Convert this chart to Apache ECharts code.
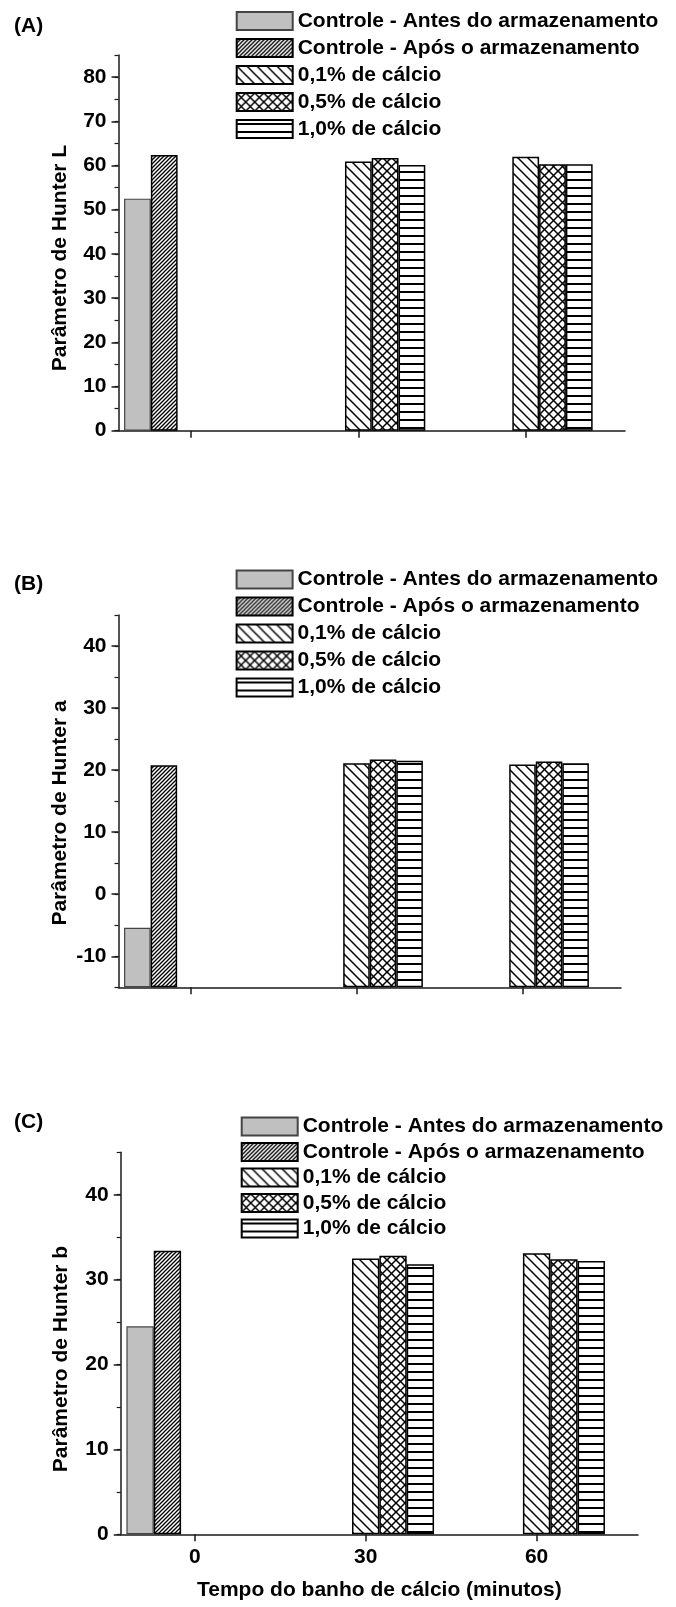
<!DOCTYPE html>
<html>
<head>
<meta charset="utf-8">
<script src="https://cdn.jsdelivr.net/npm/echarts@6/dist/echarts.min.js"></script>
<style>
html,body{margin:0;padding:0;background:#fff;}
#chart{width:676px;height:1607px;}
</style>
</head>
<body>
<div id="chart"></div>
<script>
// ---------------- DATA ----------------
const timeGroups = [0, 30, 60];
const xTickLabels = ['0', '30', '60'];
const seriesNames = [
  'Controle - Antes do armazenamento',
  'Controle - Após o armazenamento',
  '0,1% de cálcio',
  '0,5% de cálcio',
  '1,0% de cálcio'
];
// (A) Parâmetro de Hunter L
const L_antes = [52.5, null, null];
const L_apos  = [62.4, null, null];
const L_ca01  = [null, 60.9, 62.0];
const L_ca05  = [null, 61.7, 60.3];
const L_ca10  = [null, 60.1, 60.3];
// (B) Parâmetro de Hunter a
const a_antes = [-5.4, null, null];
const a_apos  = [20.8, null, null];
const a_ca01  = [null, 21.1, 20.9];
const a_ca05  = [null, 21.7, 21.4];
const a_ca10  = [null, 21.5, 21.1];
// (C) Parâmetro de Hunter b
const b_antes = [24.5, null, null];
const b_apos  = [33.4, null, null];
const b_ca01  = [null, 32.5, 33.1];
const b_ca05  = [null, 32.8, 32.4];
const b_ca10  = [null, 31.8, 32.2];
// tick labels
const yTicksL = [0, 10, 20, 30, 40, 50, 60, 70, 80];
const yTicksA = [-10, 0, 10, 20, 30, 40];
const yTicksB = [0, 10, 20, 30, 40];

// ---------------- STYLE / LAYOUT ----------------
const FONT = "'Liberation Sans', Arial, Helvetica, sans-serif";
const AXIS_COLOR = '#1a1a1a';

function pattern(kind) {
  const c = document.createElement('canvas');
  let s;
  if (kind === 'dense') s = 4;
  else if (kind === 'back') s = 10;
  else if (kind === 'cross') s = 9;
  else s = 8;
  c.width = s; c.height = s;
  const g = c.getContext('2d');
  g.fillStyle = '#fff';
  g.fillRect(0, 0, s, s);
  g.strokeStyle = '#000';
  g.fillStyle = '#000';
  function line(x1, y1, x2, y2) { g.beginPath(); g.moveTo(x1, y1); g.lineTo(x2, y2); g.stroke(); }
  if (kind === 'dense') {
    g.lineWidth = 1.3;
    line(-1, s + 1, s + 1, -1);
    line(-s - 1, s + 1, 1, -1);
    line(s - 1, s + 1, 2 * s + 1, -1);
  } else if (kind === 'back') {
    g.lineWidth = 1.5;
    line(-1, -1, s + 1, s + 1);
    line(-s - 1, -1, 1, s + 1);
    line(s - 1, -1, 2 * s + 1, s + 1);
  } else if (kind === 'cross') {
    g.lineWidth = 1.5;
    line(-1, -1, s + 1, s + 1);
    line(-s - 1, -1, 1, s + 1);
    line(s - 1, -1, 2 * s + 1, s + 1);
    line(-1, s + 1, s + 1, -1);
    line(-s - 1, s + 1, 1, -1);
    line(s - 1, s + 1, 2 * s + 1, -1);
  } else {
    g.fillRect(0, 3, s, 2);
  }
  return { image: c, repeat: 'repeat' };
}

const seriesStyles = [
  { color: '#c0c0c0', borderColor: '#444', borderWidth: 1.2 },
  { color: pattern('dense'), borderColor: '#000', borderWidth: 1.5 },
  { color: pattern('back'), borderColor: '#000', borderWidth: 1.5 },
  { color: pattern('cross'), borderColor: '#000', borderWidth: 1.5 },
  { color: pattern('horiz'), borderColor: '#000', borderWidth: 1.5 }
];

const xMin = -13, xMax = 77.8, barUnits = 4.8;

const panels = [
  { values: [L_antes, L_apos, L_ca01, L_ca05, L_ca10], yMin: 0, yMax: 85, yTicks: yTicksL,
    grid: { left: 118.5, top: 55, width: 506.5, height: 375.7 },
    yTitle: 'Parâmetro de Hunter L', yTitlePos: [60, 258],
    tag: '(A)', tagPos: [14, 26], legendPos: [230.7, 5.5], legendGap: 6 },
  { values: [a_antes, a_apos, a_ca01, a_ca05, a_ca10], yMin: -15, yMax: 45, yTicks: yTicksA,
    grid: { left: 118.5, top: 615, width: 502.5, height: 372.3 },
    yTitle: 'Parâmetro de Hunter a', yTitlePos: [60, 813],
    tag: '(B)', tagPos: [14, 584], legendPos: [230.6, 564], legendGap: 6 },
  { values: [b_antes, b_apos, b_ca01, b_ca05, b_ca10], yMin: 0, yMax: 45, yTicks: yTicksB,
    grid: { left: 120.7, top: 1152.3, width: 517.3, height: 382 },
    yTitle: 'Parâmetro de Hunter b', yTitlePos: [61, 1359],
    tag: '(C)', tagPos: [14, 1122], legendPos: [235.7, 1111], legendGap: 4.5, showX: true }
];

const textBase = { fontFamily: FONT, fontWeight: 'bold', fontSize: 21, color: '#000' };

const grids = [], xAxes = [], yAxes = [], series = [], legends = [], graphics = [];

panels.forEach((p, k) => {
  grids.push(Object.assign({ containLabel: false }, p.grid));
  const pxPerUnit = p.grid.width / (xMax - xMin);
  xAxes.push({
    type: 'value', gridIndex: k, min: xMin, max: xMax, position: 'bottom',
    axisLine: { show: true, onZero: false, lineStyle: { color: AXIS_COLOR, width: 1.5 } },
    axisTick: { show: true, customValues: timeGroups, length: 7, lineStyle: { color: AXIS_COLOR, width: 1.5 } },
    axisLabel: Object.assign({ show: !!p.showX, customValues: timeGroups, margin: 12,
      formatter: v => xTickLabels[timeGroups.indexOf(v)] }, textBase),
    splitLine: { show: false },
    name: p.showX ? 'Tempo do banho de cálcio (minutos)' : '',
    nameLocation: 'middle', nameGap: 45,
    nameTextStyle: textBase
  });
  // main y axis (labels + long ticks)
  yAxes.push({
    type: 'value', gridIndex: k, min: p.yMin, max: p.yMax, startValue: p.yMin, position: 'left',
    axisLine: { show: true, onZero: false, lineStyle: { color: AXIS_COLOR, width: 1.5 } },
    axisTick: { show: true, customValues: p.yTicks, length: 7, lineStyle: { color: AXIS_COLOR, width: 1.5 } },
    axisLabel: Object.assign({ customValues: p.yTicks, margin: 12 }, textBase),
    splitLine: { show: false }
  });
  // minor y axis (short ticks every 5), same side
  yAxes.push({
    type: 'value', gridIndex: k, min: p.yMin, max: p.yMax, interval: 5, position: 'left', offset: 0,
    axisLine: { show: false, onZero: false },
    axisTick: { show: true, length: 4, lineStyle: { color: AXIS_COLOR, width: 1.2 } },
    axisLabel: { show: false },
    splitLine: { show: false }
  });
  p.values.forEach((arr, j) => {
    series.push({
      type: 'bar', name: seriesNames[j], xAxisIndex: k, yAxisIndex: 2 * k,
      data: timeGroups.map((t, i) => [t, arr[i]]).filter(d => d[1] !== null),
      barWidth: barUnits * pxPerUnit, barGap: '0%',
      itemStyle: seriesStyles[j],
      emphasis: { disabled: true },
      animation: false
    });
  });
  legends.push({
    data: seriesNames, orient: 'vertical', left: p.legendPos[0], top: p.legendPos[1],
    icon: 'rect', itemWidth: 56, itemHeight: 18, itemGap: p.legendGap,
    textStyle: Object.assign({ lineHeight: 21 }, textBase),
    selectedMode: false
  });
  graphics.push({
    type: 'text', x: p.tagPos[0], y: p.tagPos[1],
    style: { text: p.tag, textAlign: 'left', textVerticalAlign: 'middle', fill: '#000',
      font: "bold 21px " + FONT }
  });
  graphics.push({
    type: 'text', x: p.yTitlePos[0], y: p.yTitlePos[1], rotation: Math.PI / 2,
    style: { text: p.yTitle, textAlign: 'center', textVerticalAlign: 'middle', fill: '#000',
      font: "bold 21px " + FONT }
  });
});

const chart = echarts.init(document.getElementById('chart'), null, { renderer: 'canvas' });
chart.setOption({
  backgroundColor: '#fff',
  animation: false,
  grid: grids,
  xAxis: xAxes,
  yAxis: yAxes,
  series: series,
  legend: legends,
  graphic: graphics
});
</script>
</body>
</html>
